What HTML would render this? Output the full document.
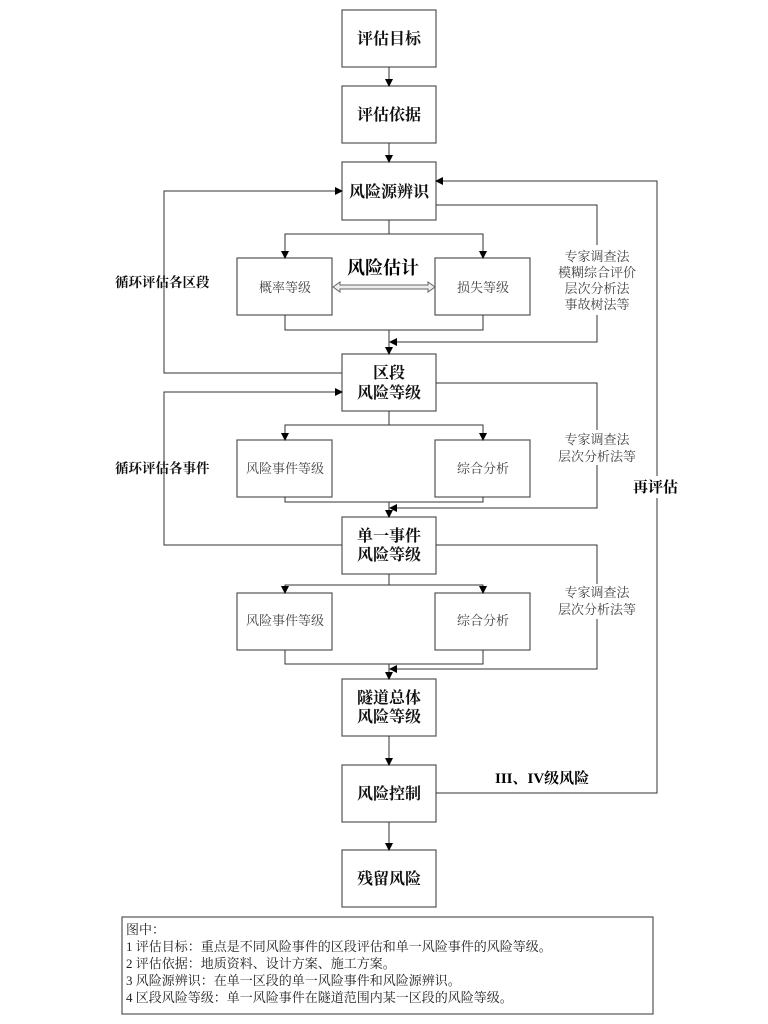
<!DOCTYPE html>
<html><head><meta charset="utf-8"><style>
body{margin:0;background:#fff;}
svg{display:block;}
text{font-family:"Liberation Serif","Noto Serif CJK SC",serif;}
.b{font-size:16px;fill:#111;text-anchor:middle;font-weight:bold;}
.s{font-size:13px;fill:#444;text-anchor:middle;}
.l{font-size:13.5px;fill:#111;font-weight:bold;}
</style></head><body>
<svg width="768" height="1024" viewBox="0 0 768 1024" xmlns="http://www.w3.org/2000/svg">
<defs><marker id="a" markerWidth="8" markerHeight="8" refX="7" refY="4" orient="auto" markerUnits="userSpaceOnUse"><path d="M0,0 L8,4 L0,8z" fill="#000"/></marker></defs>
<g fill="none" stroke="#555" stroke-width="1.2">
<rect x="342" y="10" width="94" height="57"/>
<rect x="342" y="86" width="94" height="57"/>
<rect x="342" y="162" width="94" height="58"/>
<rect x="237" y="258" width="95" height="57"/>
<rect x="435" y="258" width="95" height="57"/>
<rect x="342" y="354" width="94" height="57"/>
<rect x="237" y="440" width="95" height="57"/>
<rect x="435" y="440" width="95" height="57"/>
<rect x="342" y="517" width="94" height="57"/>
<rect x="237" y="593" width="95" height="57"/>
<rect x="435" y="593" width="95" height="57"/>
<rect x="342" y="679" width="94" height="57"/>
<rect x="342" y="765" width="94" height="57"/>
<rect x="342" y="850" width="94" height="57"/>
<rect x="122" y="917" width="531" height="97"/>
</g>
<g fill="none" stroke="#333" stroke-width="1" marker-end="url(#a)">
<path d="M389 67V86"/><path d="M389 143V162"/>
<path d="M389 220V234H285V258"/><path d="M389 234H483V258"/>
<path d="M285 315V330H483V315M389 330V354"/>
<path d="M436 205H597V342H390"/>
<path d="M342 373H164V191H342"/>
<path d="M389 411V425H285V440"/><path d="M389 425H483V440"/>
<path d="M285 497V502H483V497M389 502V517"/>
<path d="M436 383H597V508H390"/>
<path d="M342 545H164V392H342"/>
<path d="M389 574V585H285V593"/><path d="M389 585H483V593"/>
<path d="M285 650V664H483V650M389 664V679"/>
<path d="M436 545H597V669H390"/>
<path d="M389 736V765"/><path d="M389 822V850"/>
<path d="M436 793H657V181H436"/>
</g>
<path d="M333 287L340 282V285H428V282L435 287L428 292V289H340V292Z" fill="#eee" stroke="#666"/>
<rect x="560" y="245" width="75" height="70" fill="#fff"/>
<rect x="560" y="430" width="75" height="35" fill="#fff"/>
<rect x="560" y="584" width="75" height="35" fill="#fff"/>
<rect x="630" y="476" width="54" height="22" fill="#fff"/>
<text class="b" x="389" y="44">评估目标</text>
<text class="b" x="389" y="120">评估依据</text>
<text class="b" x="389" y="197">风险源辨识</text>
<text class="s" x="285" y="292">概率等级</text>
<text class="s" x="483" y="292">损失等级</text>
<text x="383" y="274" style="font-size:18px;text-anchor:middle;font-weight:bold">风险估计</text>
<text class="b" x="389" y="378">区段</text><text class="b" x="389" y="398">风险等级</text>
<text class="s" x="285" y="473">风险事件等级</text>
<text class="s" x="483" y="473">综合分析</text>
<text class="b" x="389" y="541">单一事件</text><text class="b" x="389" y="560">风险等级</text>
<text class="s" x="285" y="625">风险事件等级</text>
<text class="s" x="483" y="625">综合分析</text>
<text class="b" x="389" y="703">隧道总体</text><text class="b" x="389" y="722">风险等级</text>
<text class="b" x="389" y="799">风险控制</text>
<text class="b" x="389" y="884">残留风险</text>
<g class="s"><text x="597" y="261">专家调查法</text><text x="597" y="277">模糊综合评价</text><text x="597" y="293">层次分析法</text><text x="597" y="309">事故树法等</text>
<text x="597" y="444">专家调查法</text><text x="597" y="461">层次分析法等</text>
<text x="597" y="597">专家调查法</text><text x="597" y="614">层次分析法等</text></g>
<text class="l" x="115" y="287">循环评估各区段</text>
<text class="l" x="115" y="473">循环评估各事件</text>
<text x="633" y="492" style="font-size:15px;font-weight:bold">再评估</text>
<text x="495" y="783" style="font-size:15px;font-weight:bold">III、IV级风险</text>
<g style="font-size:13px;fill:#222">
<text x="126" y="934">图中：</text>
<text x="126" y="951">1 评估目标：重点是不同风险事件的区段评估和单一风险事件的风险等级。</text>
<text x="126" y="968">2 评估依据：地质资料、设计方案、施工方案。</text>
<text x="126" y="985">3 风险源辨识：在单一区段的单一风险事件和风险源辨识。</text>
<text x="126" y="1002">4 区段风险等级：单一风险事件在隧道范围内某一区段的风险等级。</text>
</g>
</svg>
</body></html>
